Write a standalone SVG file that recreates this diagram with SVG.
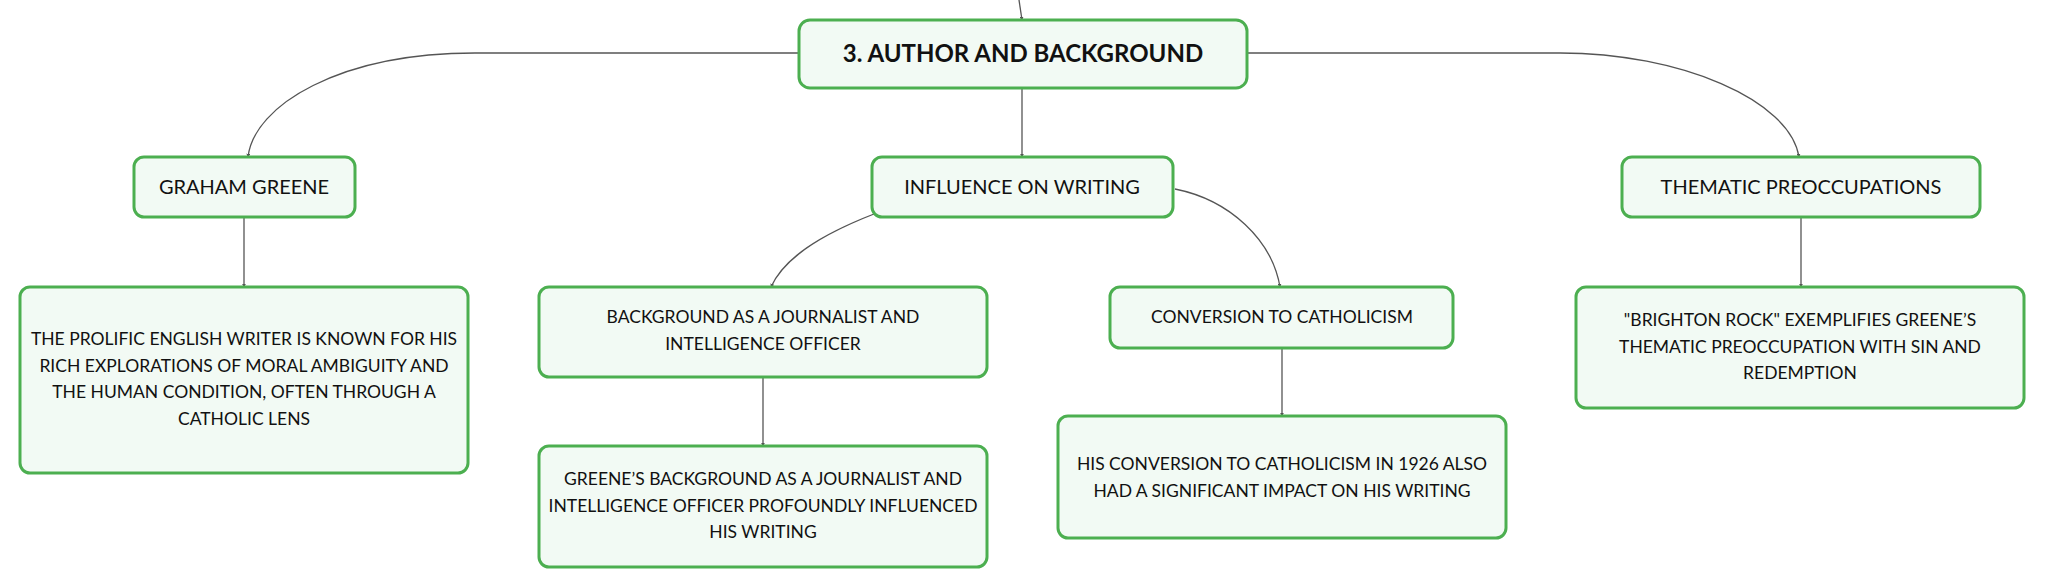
<svg xmlns="http://www.w3.org/2000/svg" width="2046" height="588" viewBox="0 0 2046 588">
<style>
.box{fill:#f2faf4;stroke:#4caf50;stroke-width:3}
.t{font-family:Lato,"Noto Sans","Liberation Sans",sans-serif;fill:#111;text-anchor:middle}
.t1{font-size:20px}
.t2{font-size:17.5px}
.root{font-size:24px;font-weight:bold}
.c{fill:none;stroke:#555;stroke-width:1.3;marker-end:url(#ah)}
</style>
<defs>
<marker id="ah" viewBox="0 0 6 6" refX="5" refY="3" markerWidth="4" markerHeight="4" orient="auto" markerUnits="userSpaceOnUse">
<path d="M0,0 L6,3 L0,6 z" fill="#555"/>
</marker>
</defs>
<rect width="2046" height="588" fill="#fff"/>
<g id="connectors">
<path class="c" d="M1019,0 L1022,20"/>
<path class="c" d="M799,53 L475,53 C340,53 254,105 248,157"/>
<path class="c" d="M1247,53 L1560,53 C1680,53 1790,100 1799,157"/>
<path class="c" d="M1022,88 L1022,157"/>
<path class="c" d="M874,214 C820,235 784,258 771,287"/>
<path class="c" d="M1175,189 C1230,200 1272,240 1280,287"/>
<path class="c" d="M244,217 L244,287"/>
<path class="c" d="M763,377 L763,446"/>
<path class="c" d="M1282,348 L1282,416"/>
<path class="c" d="M1801,217 L1801,287"/>
</g>
<g id="root">
<rect class="box" x="799" y="20" width="448" height="68" rx="11"/>
<text class="t root" x="1023" y="62">3. AUTHOR AND BACKGROUND</text>
</g>
<g id="graham-greene">
<rect class="box" x="134" y="157" width="221" height="60" rx="10"/>
<text class="t t1" x="244" y="194">GRAHAM GREENE</text>
</g>
<g id="influence">
<rect class="box" x="872" y="157" width="301" height="60" rx="10"/>
<text class="t t1" x="1022" y="194">INFLUENCE ON WRITING</text>
</g>
<g id="thematic">
<rect class="box" x="1622" y="157" width="358" height="60" rx="10"/>
<text class="t t1" x="1801" y="194">THEMATIC PREOCCUPATIONS</text>
</g>
<g id="prolific">
<rect class="box" x="20" y="287" width="448" height="186" rx="10"/>
<text class="t t2" x="244" y="345">THE PROLIFIC ENGLISH WRITER IS KNOWN FOR HIS</text>
<text class="t t2" x="244" y="372">RICH EXPLORATIONS OF MORAL AMBIGUITY AND</text>
<text class="t t2" x="244" y="398">THE HUMAN CONDITION, OFTEN THROUGH A</text>
<text class="t t2" x="244" y="425">CATHOLIC LENS</text>
</g>
<g id="background">
<rect class="box" x="539" y="287" width="448" height="90" rx="10"/>
<text class="t t2" x="763" y="323">BACKGROUND AS A JOURNALIST AND</text>
<text class="t t2" x="763" y="350">INTELLIGENCE OFFICER</text>
</g>
<g id="greenes-background">
<rect class="box" x="539" y="446" width="448" height="121" rx="10"/>
<text class="t t2" x="763" y="485">GREENE’S BACKGROUND AS A JOURNALIST AND</text>
<text class="t t2" x="763" y="512">INTELLIGENCE OFFICER PROFOUNDLY INFLUENCED</text>
<text class="t t2" x="763" y="538">HIS WRITING</text>
</g>
<g id="conversion">
<rect class="box" x="1110" y="287" width="343" height="61" rx="10"/>
<text class="t t2" x="1282" y="323">CONVERSION TO CATHOLICISM</text>
</g>
<g id="his-conversion">
<rect class="box" x="1058" y="416" width="448" height="122" rx="10"/>
<text class="t t2" x="1282" y="470">HIS CONVERSION TO CATHOLICISM IN 1926 ALSO</text>
<text class="t t2" x="1282" y="497">HAD A SIGNIFICANT IMPACT ON HIS WRITING</text>
</g>
<g id="brighton">
<rect class="box" x="1576" y="287" width="448" height="121" rx="10"/>
<text class="t t2" x="1800" y="326">"BRIGHTON ROCK" EXEMPLIFIES GREENE’S</text>
<text class="t t2" x="1800" y="353">THEMATIC PREOCCUPATION WITH SIN AND</text>
<text class="t t2" x="1800" y="379">REDEMPTION</text>
</g>
</svg>
